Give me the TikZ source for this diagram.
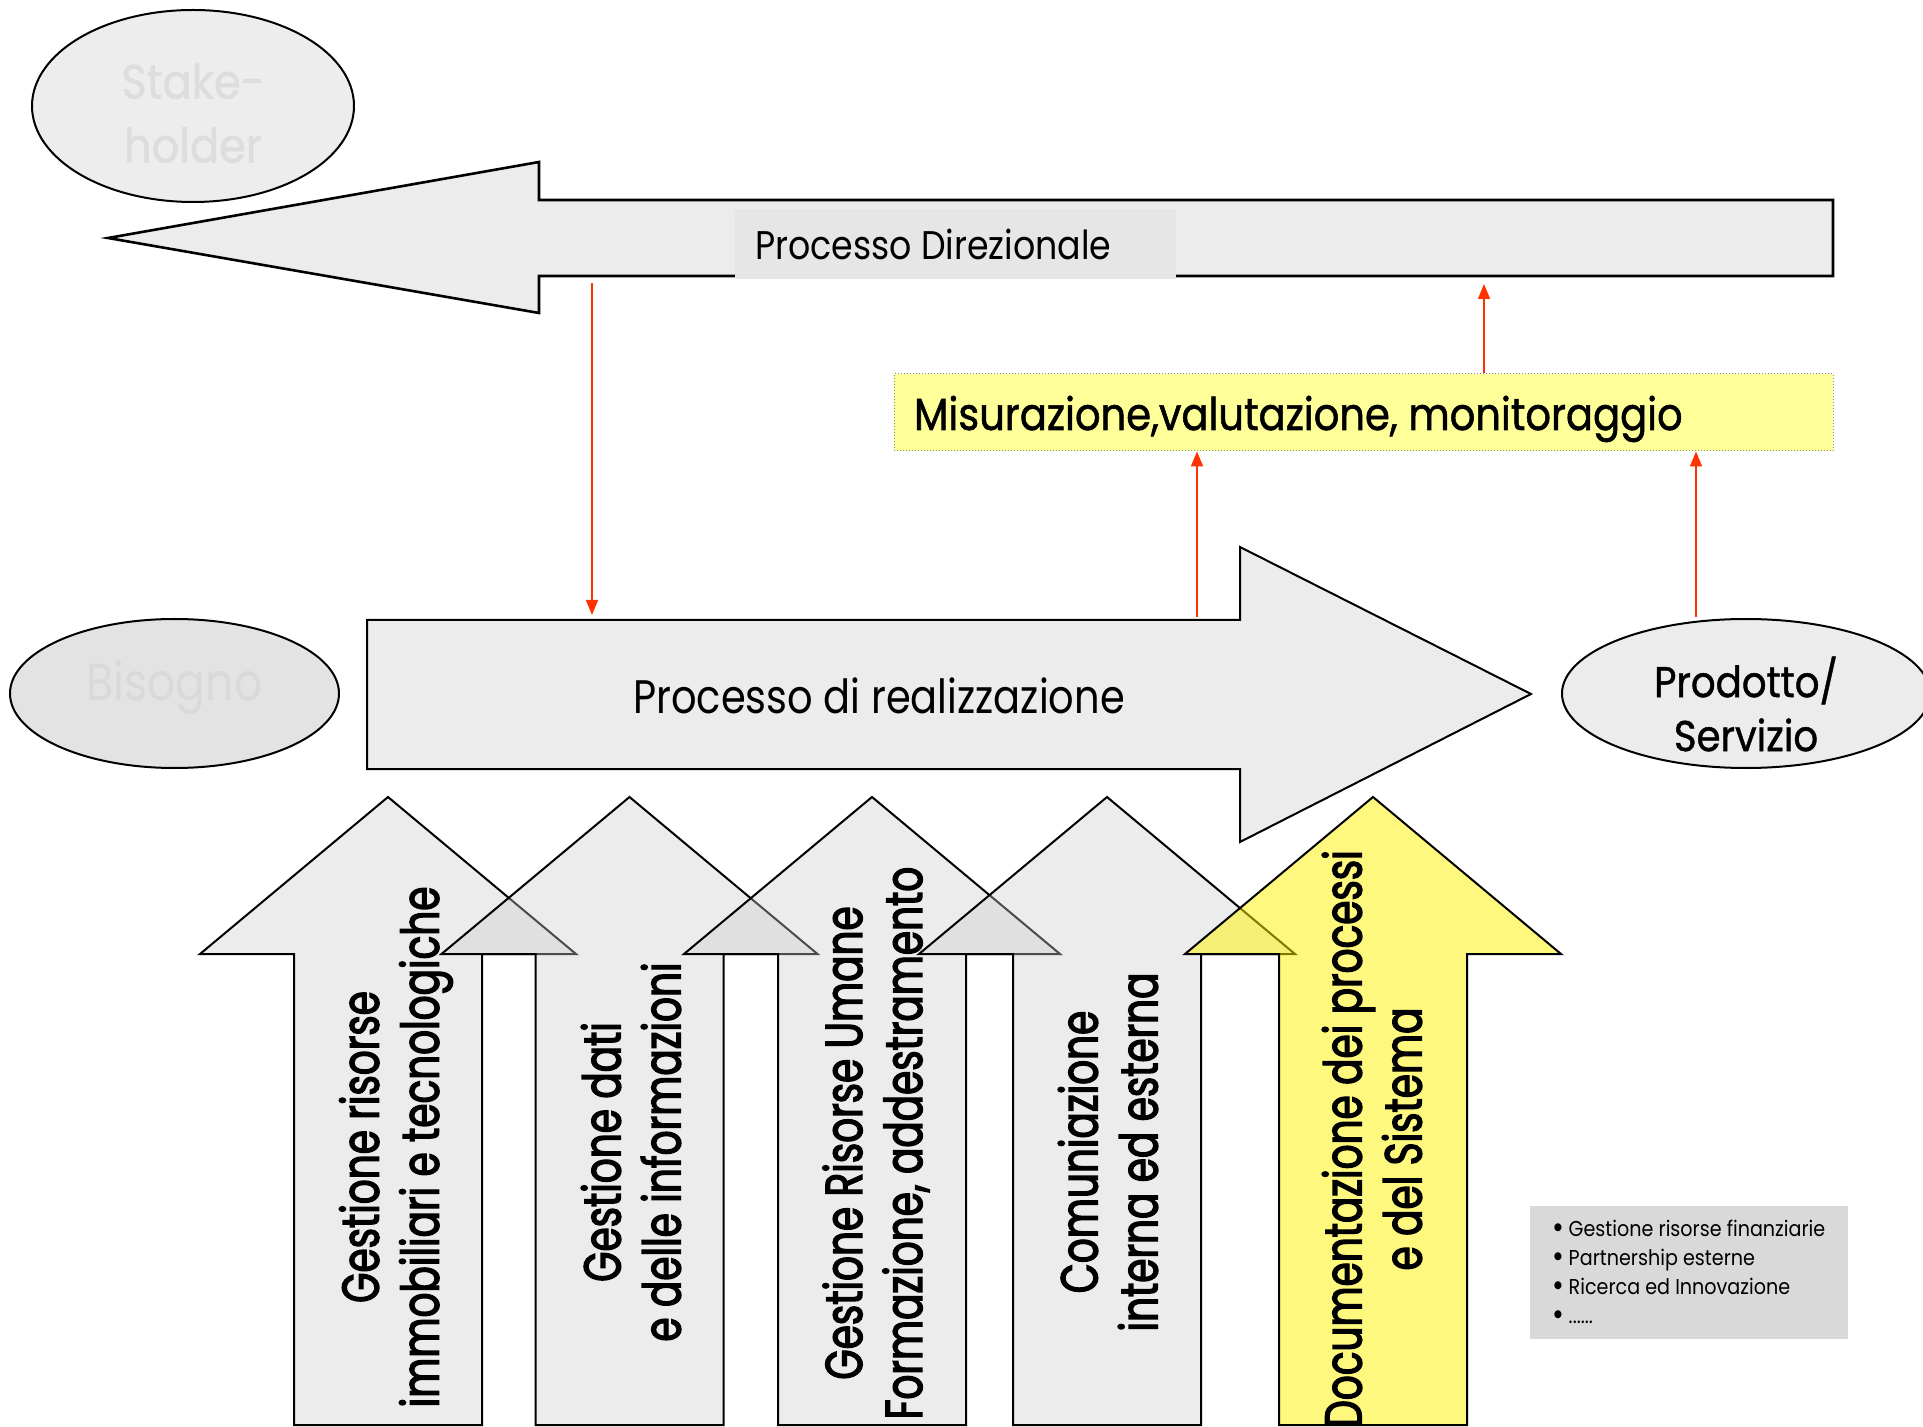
\documentclass[tikz,border=0pt]{standalone}
\usepackage{fontspec}
\usetikzlibrary{shapes.geometric,arrows.meta,calc}
\setmainfont{Poppins}
\newfontfamily\fvert{Poppins}[FakeStretch=0.75,FakeBold=2.5]
\newfontfamily\fcond{Poppins}[FakeStretch=0.85]
\newfontfamily\fnarrow{Poppins}[FakeStretch=0.87]
\newfontfamily\fnote{Poppins}[FakeStretch=0.89]
\newfontfamily\fmed{Poppins}[FakeStretch=0.9,FakeBold=1]
\newfontfamily\fbold{Poppins}[FakeStretch=0.89,FakeBold=1.2]
\definecolor{linkred}{HTML}{FF3300}
\definecolor{shaftgray}{HTML}{ECECEC}
\definecolor{labelgray}{HTML}{E6E6E6}
\definecolor{needgray}{HTML}{E3E3E3}
\definecolor{ghosttext}{HTML}{D9D9D9}
\definecolor{notegray}{HTML}{D9D9D9}
\definecolor{measureyellow}{HTML}{FFFF99}
\newcommand\notebullet{\makebox[8pt][l]{\raisebox{-0.1em}{\scalebox{1.5}{•}}}}
\begin{document}
\begin{tikzpicture}[x=0.5pt,y=-0.5pt,
  outline/.style={draw=black,line width=1pt},
  bigarrow/.style={outline,line width=1.3pt,fill=shaftgray},
  greyup/.style={outline,fill=black!20,fill opacity=0.37},
  yellowup/.style={outline,fill=yellow,fill opacity=0.5},
  ovalnode/.style={ellipse,outline,inner sep=0pt},
  link/.style={draw=linkred,line width=0.8pt,-{Triangle[length=7.5pt,width=6pt]}},
  uplabel/.style={rotate=90,align=center,inner sep=0pt,
    font=\fvert\fontsize{26pt}{30pt}\selectfont},
]
\fill[white] (0,0) rectangle (1923,1427);
\useasboundingbox (0,0) rectangle (1923,1427);

% stakeholder
\node[ovalnode,fill=black!7,minimum width=161pt,minimum height=96pt] (stake) at (193,106) {};
\node[text=ghosttext!90!white,align=center,
  font=\fmed\fontsize{24pt}{32pt}\selectfont] (staketext) at (193,113) {Stake-\\holder};

% management process: arrow pointing left
\draw[bigarrow] (108,238) -- (539,162) -- (539,200) -- (1833,200) -- (1833,276)
  -- (539,276) -- (539,313) -- cycle;
\node[fill=labelgray,inner xsep=10pt,inner ysep=0pt,minimum height=35pt,
  font=\fnarrow\fontsize{20pt}{24pt}\selectfont] (dir) at (955.5,244)
  {\makebox[200.5pt][l]{Processo Direzionale}};

% measurement box
\node[fill=measureyellow,draw=black!45,densely dotted,line width=0.5pt,
  inner xsep=10pt,inner ysep=0pt,minimum height=38.5pt,
  text height=19pt,text depth=1.5pt,
  font=\fbold\fontsize{22.5pt}{26pt}\selectfont] (mis) at (1363.5,412.5)
  {\makebox[449.5pt][l]{Misurazione,valutazione, monitoraggio}};

% realization process: arrow pointing right
\draw[bigarrow,line width=1pt] (367,620) -- (1240,620) -- (1240,547) -- (1531,694)
  -- (1240,842) -- (1240,769) -- (367,769) -- cycle;
\node[font=\fcond\fontsize{23.5pt}{28pt}\selectfont] (real) at (879,696) {Processo di realizzazione};

% need and product
\node[ovalnode,fill=needgray,minimum width=164.5pt,minimum height=74.5pt] (need) at (174.5,693.5) {};
\node[text=ghosttext,font=\fcond\fontsize{26pt}{30pt}\selectfont] (needtext) at (174.5,688) {Bisogno};
\node[ovalnode,fill=shaftgray,minimum width=184pt,minimum height=74.5pt] (prod) at (1746,693.5) {};
\node[align=center,font=\fmed\fontsize{21.5pt}{27pt}\selectfont] (prodtext) at (1746,704)
  {Prodotto/\\Servizio};

% support processes: upward arrows
\foreach \c/\s in {388/greyup,629.5/greyup,872/greyup,1107/greyup,1373/yellowup}{
  \draw[\s] (\c-94,1425) -- (\c-94,954) -- (\c-188,954) -- (\c,797)
    -- (\c+188,954) -- (\c+94,954) -- (\c+94,1425) -- cycle;
}
\node[uplabel] (res) at (396,1147) {Gestione risorse\\immobiliari e tecnologiche};
\node[uplabel] (dati) at (631,1152) {Gestione dati\\e delle informazioni};
\node[uplabel] (hr) at (876,1143) {Gestione Risorse Umane\\Formazione, addestramento};
\node[uplabel] (com) at (1108,1152) {Comuniazione\\interna ed esterna};
\node[uplabel] (doc) at (1372,1139) {Documentazione dei processi\\e del Sistema};

% other support items
\node[fill=notegray,minimum width=159pt,minimum height=66.5pt,inner xsep=10pt,
  align=left,font=\fnote\fontsize{10.75pt}{14.5pt}\selectfont] (note) at (1689,1272.5)
  {\notebullet Gestione risorse finanziarie\\
   \notebullet Partnership esterne\\
   \notebullet Ricerca ed Innovazione\\
   \notebullet ......};

% feedback links
\coordinate (dirfoot) at (592,283);
\coordinate (realtop) at (592,615);
\coordinate (realout) at (1197,617);
\coordinate (prodout) at (1696,617);
\coordinate (dirback) at (1484,284);
\draw[link] (dirfoot) -- (realtop);
\draw[link] (realout) -- (mis.south -| realout);
\draw[link] (prodout) -- (mis.south -| prodout);
\draw[link] (mis.north -| dirback) -- (dirback);
\end{tikzpicture}
\end{document}
